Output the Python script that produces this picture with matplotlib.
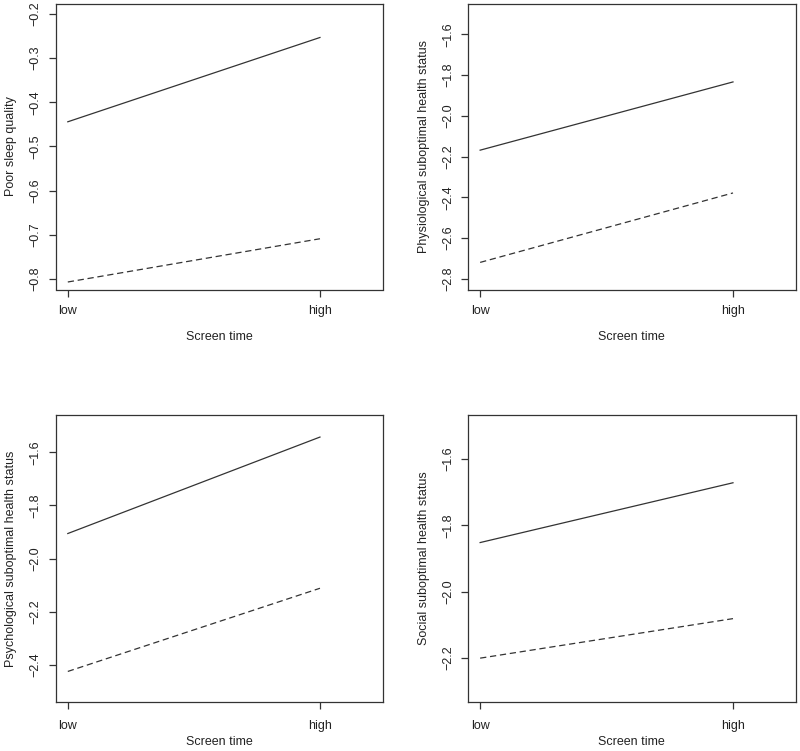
import matplotlib
matplotlib.use("Agg")
import matplotlib.pyplot as plt

plt.rcParams['font.family'] = ['Liberation Sans', 'DejaVu Sans']

x_labels = ["low", "high"]
x_pos = [1, 2]

ylabels = ["Poor sleep quality",
           "Physiological suboptimal health status",
           "Psychological suboptimal health status",
           "Social suboptimal health status"]

# solid line (upper group) and dashed line (lower group), low -> high
solid = [[-0.444, -0.253],
         [-2.168, -1.833],
         [-1.906, -1.543],
         [-1.852, -1.672]]
dashed = [[-0.807, -0.709],
          [-2.719, -2.378],
          [-2.425, -2.112],
          [-2.200, -2.081]]

ylims = [(-0.8, -0.2), (-2.8, -1.5), (-2.5, -1.5), (-2.3, -1.5)]
yticks = [[-0.8, -0.7, -0.6, -0.5, -0.4, -0.3, -0.2],
          [-2.8, -2.6, -2.4, -2.2, -2.0, -1.8, -1.6],
          [-2.4, -2.2, -2.0, -1.8, -1.6],
          [-2.2, -2.0, -1.8, -1.6]]

W, H = 800, 751
fig = plt.figure(figsize=(W / 100, H / 100), dpi=100)

# axes boxes in pixels: left, top, right, bottom
boxes = [(55.7, 3.5, 382.5, 289.5),
         (468, 3.5, 795.7, 289.5),
         (55.7, 415, 382.5, 702),
         (468, 415, 795.7, 702)]
xpads = [6, 6, 8, 8]
xlabelpads = [10, 10, 3, 3]

col = "#333333"
txt = "#222222"
fs = 9

def ext(lo, hi):
    d = (hi - lo) * 0.04
    return lo - d, hi + d

for i in range(4):
    l, t, r, b = boxes[i]
    ax = fig.add_axes([l / W, 1 - b / H, (r - l) / W, (b - t) / H])
    ax.plot(x_pos, solid[i], color=col, lw=0.9)
    ax.plot(x_pos, dashed[i], color=col, lw=0.9, dashes=(5, 3))
    ax.set_xlim(*ext(1, 2.2))
    ax.set_ylim(*ext(*ylims[i]))
    ax.set_xticks(x_pos)
    ax.set_xticklabels(x_labels)
    ax.set_yticks(yticks[i])
    ax.set_yticklabels(["{:.1f}".format(v).replace("-", "\u2212") for v in yticks[i]])
    for lab in ax.get_yticklabels():
        lab.set_rotation(90)
        lab.set_va("center")
    for s in ax.spines.values():
        s.set_color(col)
        s.set_linewidth(0.9)
    ax.tick_params(length=5, width=0.9, color=col, pad=5,
                   labelsize=fs, labelcolor=txt)
    ax.tick_params(axis="x", pad=xpads[i])
    ax.set_xlabel("Screen time", fontsize=fs, color=txt, labelpad=xlabelpads[i])
    ax.set_ylabel(ylabels[i], fontsize=fs, color=txt, labelpad=9)

fig.savefig("out.png", dpi=100)
